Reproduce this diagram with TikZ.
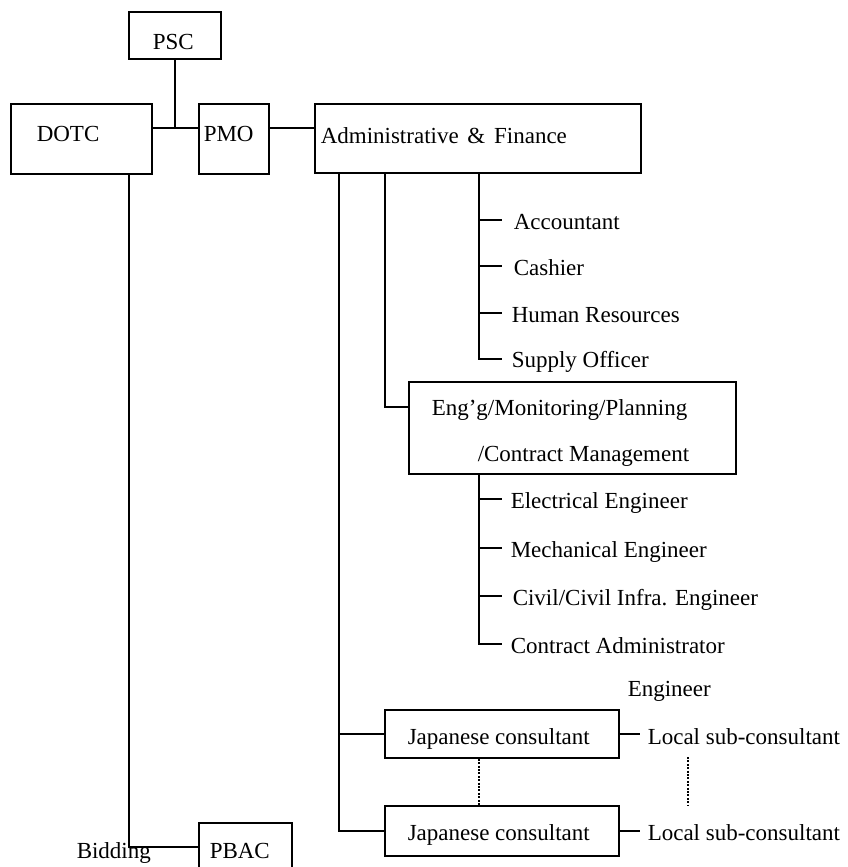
\documentclass[tikz,border=0pt]{standalone}
\usepackage{fontspec}
\setmainfont{Liberation Serif}
\begin{document}
\begin{tikzpicture}[x=1pt,y=-1pt,line width=1.5pt,
  box/.style={draw,rectangle,inner sep=0pt},
  lbl/.style={anchor=base west,inner sep=0pt,font=\fontsize{23}{27}\selectfont},
  dotline/.style={line width=2.6pt,dash pattern=on 2pt off 1.4pt}]
\clip (0,0) rectangle (847,867);
% boxes
\node[box,minimum width=92pt,minimum height=47pt] (psc) at (175,35.5) {};
\node[box,minimum width=141pt,minimum height=70pt] (dotc) at (81.5,139) {};
\node[box,minimum width=70pt,minimum height=70pt] (pmo) at (234,139) {};
\node[box,minimum width=326pt,minimum height=69pt] (adm) at (478,138.5) {};
\node[box,minimum width=327pt,minimum height=92pt] (eng) at (572.5,428) {};
\node[box,minimum width=234pt,minimum height=48pt] (jap1) at (502,734) {};
\node[box,minimum width=234pt,minimum height=50pt] (jap2) at (502,831) {};
\node[box,minimum width=93pt,minimum height=67pt] (pbac) at (245.5,856.5) {};
% box texts
\node[lbl] (tpsc) at (152,50) {PSC};
\node[lbl] (tdotc) at (36,141) {DOTC};
\node[lbl] (tpmo) at (203,141) {PMO};
\node[lbl] (tadm) at (320,143) {Administrative\hspace{3pt} \&\hspace{3pt} Finance};
\node[lbl] (teng1) at (431,415) {Eng'g/Monitoring/Planning};
\node[lbl] (teng2) at (477,461) {/Contract Management};
\node[lbl] (tjap1) at (407,744) {Japanese consultant};
\node[lbl] (tjap2) at (407,840) {Japanese consultant};
\node[lbl] (tpbac) at (209,858) {PBAC};
% plain labels
\node[lbl] (acc) at (513,229) {Accountant};
\node[lbl] (cash) at (513,275) {Cashier};
\node[lbl] (hr) at (511,322) {Human Resources};
\node[lbl] (sup) at (511,367) {Supply Officer};
\node[lbl] (elec) at (510,508) {Electrical Engineer};
\node[lbl] (mech) at (510,557) {Mechanical Engineer};
\node[lbl] (civ) at (512,605) {Civil/Civil Infra. Engineer};
\node[lbl] (cadm) at (510,653) {Contract Administrator};
\node[lbl] (engr) at (627,696) {Engineer};
\node[lbl] (loc1) at (647,744) {Local sub-consultant};
\node[lbl] (loc2) at (647,840) {Local sub-consultant};
\node[lbl] (bid) at (76,858) {Bidding};
% coordinates
\coordinate (j) at (175,128);
\coordinate (ta1) at (502,220);
\coordinate (ta2) at (502,266);
\coordinate (ta3) at (502,313);
\coordinate (ta4) at (502,359);
\coordinate (te1) at (502,499);
\coordinate (te2) at (502,548);
\coordinate (te3) at (502,596);
\coordinate (te4) at (502,644);
\coordinate (lc1) at (640,734);
\coordinate (lc2) at (640,831);
% top connectors
\draw (dotc.east |- j) -- (pmo.west |- j);
\draw (psc.south) -- (j);
\draw (pmo.east |- j) -- (adm.west |- j);
\draw (dotc.south -| 129,0) |- (pbac.west |- 0,847);
% admin subordinates
\draw (adm.south -| 479,0) |- (ta4);
\draw (479,220) -- (ta1);
\draw (479,266) -- (ta2);
\draw (479,313) -- (ta3);
\draw (adm.south -| 385,0) |- (eng.west |- 0,407);
% eng subordinates
\draw (eng.south -| 479,0) |- (te4);
\draw (479,499) -- (te1);
\draw (479,548) -- (te2);
\draw (479,596) -- (te3);
% consultants
\draw (adm.south -| 339,0) |- (jap2.west);
\draw (339,734) -- (jap1.west);
\draw (jap1.east) -- (lc1);
\draw (jap2.east) -- (lc2);
\draw[dotline] (jap1.south -| 479,0) -- (jap2.north -| 479,0);
\draw[dotline] (688,757) -- (688,806);
\end{tikzpicture}
\end{document}
